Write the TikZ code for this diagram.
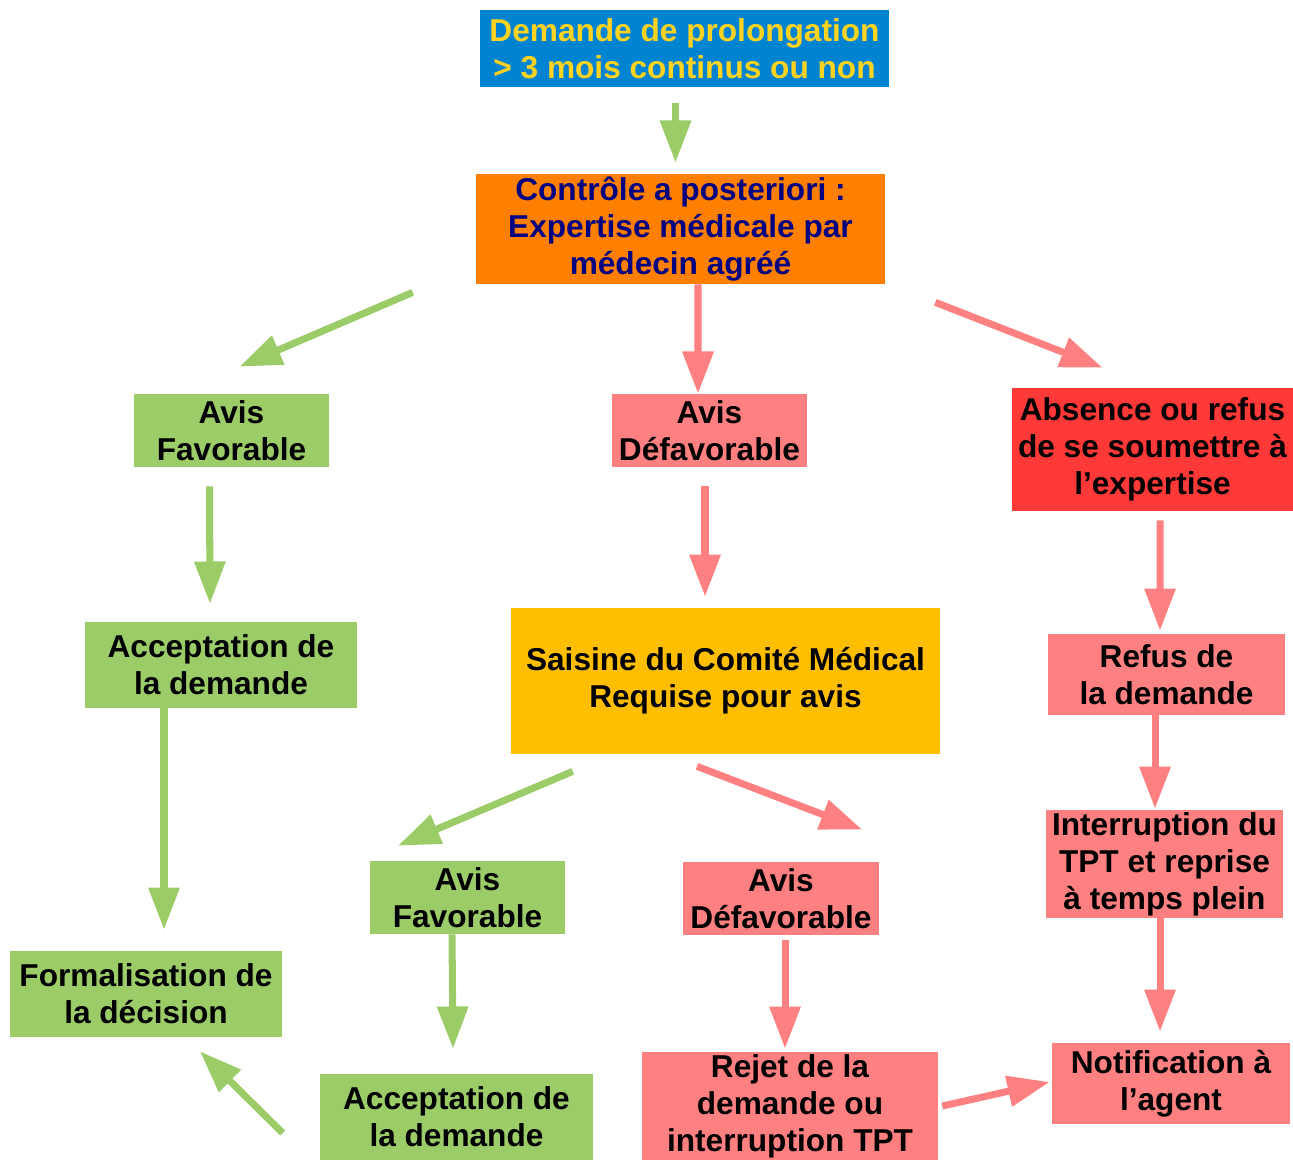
\documentclass[tikz,border=0pt]{standalone}
\usepackage{fontspec}
\setmainfont{Liberation Sans}
\usetikzlibrary{arrows.meta, calc}
\definecolor{bleu}{RGB}{0,132,209}
\definecolor{jaune}{RGB}{255,211,32}
\definecolor{orange}{RGB}{255,128,0}
\definecolor{marine}{RGB}{0,0,128}
\definecolor{vert}{RGB}{155,204,104}
\definecolor{rose}{RGB}{255,128,128}
\definecolor{rouge}{RGB}{255,56,56}
\definecolor{or}{RGB}{255,191,0}
\tikzset{
    box/.style={rectangle, inner sep=0pt, align=center, font=\bfseries\fontsize{18}{21}\selectfont},
    bluebox/.style={box, fill=bleu, text=jaune},
    orangebox/.style={box, fill=orange, text=marine},
    greenbox/.style={box, fill=vert},
    pinkbox/.style={box, fill=rose},
    redbox/.style={box, fill=rouge},
    goldbox/.style={box, fill=or},
    garr/.style={draw=vert, line width=4pt, -{Triangle[length=24pt, width=17pt]}},
    parr/.style={draw=rose, line width=4pt, -{Triangle[length=24pt, width=17pt]}}
}

\begin{document}
\begin{tikzpicture}[x=0.02cm, y=-0.02cm]
    \useasboundingbox (0,0) rectangle (1293,1160);

    \node[bluebox, minimum width=8.18cm, minimum height=1.54cm] (top) at (684.5,48.5) {Demande de prolongation\\> 3 mois continus ou non};
    \node[orangebox, minimum width=8.18cm, minimum height=2.2cm] (ctrl) at (680.5,229) {Contrôle a posteriori :\\Expertise médicale par\\médecin agréé};
    \node[greenbox, minimum width=3.9cm, minimum height=1.46cm] (fav1) at (231.5,430.5) {Avis\\Favorable};
    \node[pinkbox, minimum width=3.9cm, minimum height=1.46cm] (def1) at (709.5,430.5) {Avis\\Défavorable};
    \node[redbox, minimum width=5.62cm, minimum height=2.46cm] (abs) at (1152.5,449.5) {Absence ou refus\\de se soumettre à\\l’expertise};
    \node[greenbox, minimum width=5.44cm, minimum height=1.72cm] (acc1) at (221,665) {Acceptation de\\la demande};
    \node[goldbox, minimum width=8.58cm, minimum height=2.92cm] (sais) at (725.5,681) {Saisine du Comité Médical\\Requise pour avis};
    \node[pinkbox, minimum width=4.74cm, minimum height=1.62cm] (refus) at (1166.5,674.5) {Refus de\\la demande};
    \node[pinkbox, minimum width=4.74cm, minimum height=2.16cm] (interr) at (1164.5,864) {Interruption du\\TPT et reprise\\à temps plein};
    \node[greenbox, minimum width=5.44cm, minimum height=1.72cm] (formal) at (146,994) {Formalisation de\\la décision};
    \node[greenbox, minimum width=3.9cm, minimum height=1.46cm] (fav2) at (467.5,897.5) {Avis\\Favorable};
    \node[pinkbox, minimum width=3.92cm, minimum height=1.46cm] (def2) at (781,898.5) {Avis\\Défavorable};
    \node[greenbox, minimum width=5.46cm, minimum height=1.72cm] (acc2) at (456.5,1117) {Acceptation de\\la demande};
    \node[pinkbox, minimum width=5.92cm, minimum height=2.16cm] (rejet) at (790,1106) {Rejet de la\\demande ou\\interruption TPT};
    \node[pinkbox, minimum width=4.76cm, minimum height=1.62cm] (notif) at (1171,1083.5) {Notification à\\l’agent};

    % branche haute
    \draw[garr] ($(top.south)+(-9,16)$) -- ($(ctrl.north)+(-5,-11)$);
    \draw[garr] ($(ctrl.south west)+(-63,8)$) -- ($(fav1.north)+(8,-27)$);
    \draw[parr] ($(ctrl.south)+(17.5,0)$) -- ($(def1.north)+(-11.5,0)$);
    \draw[parr] ($(ctrl.south east)+(50,18)$) -- ($(abs.north)+(-50,-20)$);
    % colonnes
    \draw[garr] ($(fav1.south)+(-22,19)$) -- ($(acc1.north)+(-11,-18)$);
    \draw[parr] ($(def1.south)+(-4.5,19)$) -- ($(sais.north)+(-20.5,-11)$);
    \draw[parr] ($(abs.south)+(7.5,9)$) -- ($(refus.north)+(-6.5,-3)$);
    \draw[garr] ($(acc1.south)+(-57,0)$) -- ($(formal.north)+(18,-21)$);
    \draw[garr] ($(sais.south west)+(62,17)$) -- ($(fav2.north)+(-69.5,-15)$);
    \draw[parr] ($(sais.south)+(-28.5,12)$) -- ($(def2.north east)+(-17,-32)$);
    \draw[parr] ($(refus.south)+(-11.5,0)$) -- ($(interr.north)+(-9.5,-1)$);
    \draw[parr] ($(interr.south)+(-4.5,0)$) -- ($(notif.north)+(-11,-11)$);
    \draw[garr] ($(fav2.south)+(-15.5,0)$) -- ($(acc2.north)+(-3.5,-25)$);
    \draw[parr] ($(def2.south)+(4,5)$) -- ($(rejet.north)+(-5,-3)$);
    % retours
    \draw[parr] ($(rejet.east)+(4,0)$) -- ($(notif.west)+(-2,-1.5)$);
    \draw[garr] ($(acc2.west)+(-37,16)$) -- ($(formal.south)+(54,14)$);
\end{tikzpicture}
\end{document}
